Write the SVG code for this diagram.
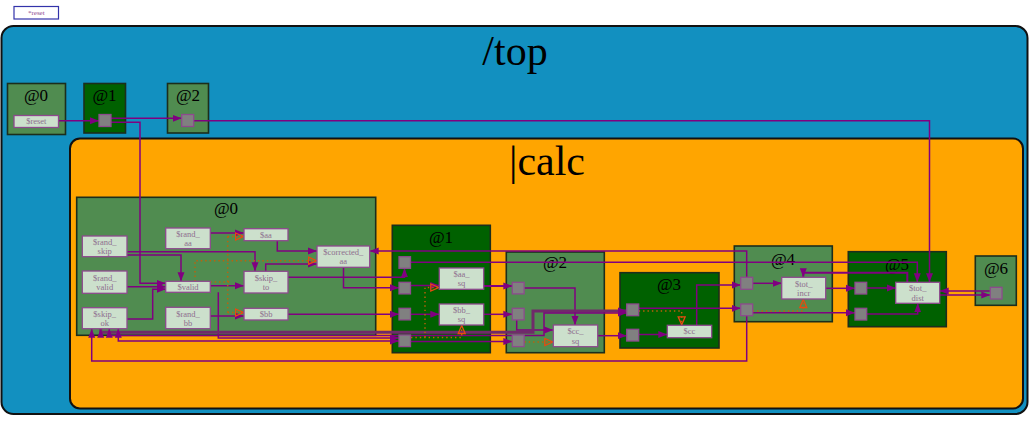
<svg xmlns="http://www.w3.org/2000/svg" width="1029" height="422" viewBox="0 0 1029 422">
<style>
.st{stroke:#1c2e1c;stroke-width:1.6}
.md{fill:#508c50}
.dk{fill:#006100}
.lbl{font-family:"Liberation Serif",serif;font-size:17px;fill:#000;text-anchor:middle}
.nd{fill:#cce0cc;stroke:#8e4a8e;stroke-width:1.3}
.nt{font-family:"Liberation Serif",serif;font-size:8.5px;fill:#8e6e8e;text-anchor:middle}
.sq{fill:#808080;stroke:#8e4a8e;stroke-width:1.3}
.c{fill:none;stroke:#800080;stroke-width:1.5;marker-end:url(#a)}
.cb{fill:none;stroke:#800080;stroke-width:1.5;marker-start:url(#a);marker-end:url(#a)}
.n{fill:none;stroke:#800080;stroke-width:1.5}
.tk{stroke:#702a6a;stroke-width:3}
.d{fill:none;stroke:#c0600a;stroke-width:1.4;stroke-dasharray:1.4,3}
.dh{fill:none;stroke:#c0600a;stroke-width:1.4;stroke-dasharray:1.4,3;marker-end:url(#h)}
</style>
<defs>
<marker id="a" markerUnits="userSpaceOnUse" markerWidth="10" markerHeight="8" refX="9" refY="4" orient="auto-start-reverse"><path d="M0,0.5 L9,4 L0,7.5 z" fill="#800080"/></marker>
<marker id="h" markerUnits="userSpaceOnUse" markerWidth="11" markerHeight="10" refX="9.5" refY="4.5" orient="auto"><path d="M1,1 L9,4.5 L1,8 z" fill="none" stroke="#e84a10" stroke-width="1.3" stroke-dasharray="none"/></marker>
</defs>
<rect width="1029" height="422" fill="#fff"/>
<g id="reset-key">
<rect x="14" y="6.5" width="44.5" height="12.5" fill="#fff" stroke="#3333aa" stroke-width="1.2"/>
<text x="36.3" y="15.3" font-family="Liberation Serif,serif" font-size="7" fill="#8e4a8e" text-anchor="middle">*reset</text>
</g>
<g id="top">
<rect x="1.5" y="26" width="1026" height="388" rx="12" fill="#1290c0" stroke="#111" stroke-width="2"/>
<text x="515" y="65" font-family="Liberation Serif,serif" font-size="42" text-anchor="middle">/top</text>
</g>
<g id="top-s0"><rect x="7.5" y="83.5" width="58" height="51" class="md st"/><text x="36" y="101" class="lbl">@0</text></g>
<g id="top-s1"><rect x="84" y="83.5" width="41.5" height="49.5" class="dk st"/><text x="104.5" y="101" class="lbl">@1</text></g>
<g id="top-s2"><rect x="167.5" y="83.5" width="41" height="49.5" class="md st"/><text x="188" y="101" class="lbl">@2</text></g>
<g id="calc">
<rect x="70" y="138.5" width="953" height="270" rx="10" fill="#ffa500" stroke="#111" stroke-width="2"/>
<text x="547" y="175" font-family="Liberation Serif,serif" font-size="42" text-anchor="middle">|calc</text>
</g>
<g id="calc-s0"><rect x="76.7" y="197.3" width="299" height="138" class="md st"/><text x="226" y="214" class="lbl">@0</text></g>
<g id="calc-s1"><rect x="392.3" y="225.3" width="98" height="127.4" class="dk st"/><text x="441" y="243" class="lbl">@1</text></g>
<g id="calc-s2"><rect x="506.3" y="252" width="98" height="100.7" class="md st"/><text x="555" y="268" class="lbl">@2</text></g>
<g id="calc-s3"><rect x="620" y="272.7" width="99" height="75.3" class="dk st"/><text x="669" y="290" class="lbl">@3</text></g>
<g id="calc-s4"><rect x="734.3" y="246" width="98" height="75.7" class="md st"/><text x="783" y="265" class="lbl">@4</text></g>
<g id="calc-s5"><rect x="848.3" y="251.7" width="98" height="75" class="dk st"/><text x="897" y="270" class="lbl">@5</text></g>
<g id="calc-s6"><rect x="975.3" y="256" width="41" height="49.3" class="md st"/><text x="996" y="274" class="lbl">@6</text></g>

<g id="connectors">
<path class="c" d="M58.7,120.7 H99"/>
<path class="c" d="M111,118.3 H181.7"/>
<path class="c" d="M193.7,120.7 H929.5 V282.3"/>
<path class="c" d="M111,122.3 H140 V283.3 H165.7"/>
<path class="c" d="M210.3,233 H244"/>
<path class="c" d="M127,251.7 H255 V271.3"/>
<path class="c" d="M127,255 H181 V281.3"/>
<path class="c" d="M127,286.7 H165.7"/>
<path class="c" d="M127,319 H152.7 V289.3 H165.7"/>
<path class="c" d="M210.3,285.7 H244"/>
<path class="c" d="M210.3,316 H244"/>
<path class="c" d="M277.3,240.7 V251 H317"/>
<path class="c" d="M265.7,271.3 V264 H317"/>
<path class="c" d="M288,277.3 H404.5 V268.3"/>
<path class="c" d="M343.5,267.3 V287.7 H399"/>
<path class="c" d="M288,314.3 H399"/>
<path class="c" d="M218.3,292.3 V338 H399"/>
<path class="c" d="M746.7,277.3 V251 H369.7"/>
<path class="c" d="M410.3,262.3 H917.3 V282.3"/>
<path class="c" d="M410.3,285.5 H439.3"/>
<path class="c" d="M410.3,314.3 H439.3"/>
<path class="c" d="M410.3,341.5 H512.3"/>
<path class="c" style="stroke-width:2" d="M483.7,286 H512.3"/>
<path class="c" d="M483.7,314.3 H512.3"/>
<path class="c" d="M524.3,288 H575 V325"/>
<path class="c" d="M516.7,320 V330 H553.3"/>
<path class="c" d="M597.7,335.7 H626.7"/>
<path class="cb tk" d="M100.7,328.7 V332.3 H533 V311 H626.7"/>
<path class="cb" d="M109.3,328.7 V335.5 H544 V313 H626.7"/>
<path class="cb" d="M118.3,328.7 V341 H399"/>
<path class="c" d="M746.7,315.7 V361 H91.7 V328.7"/>
<path class="c" d="M638.7,308.3 H740.7"/>
<path class="c" d="M638.7,334.5 H667.3"/>
<path class="c" d="M696.7,325.3 V285 H740.7"/>
<path class="c" d="M752.7,283.3 H781.7"/>
<path class="c" style="stroke-width:2" d="M907.3,282.3 V272.7 H803.3 V277.3"/>
<path class="c" d="M825.7,288.3 H855"/>
<path class="c" d="M752.7,312.7 H855"/>
<path class="c" d="M866.7,288 H895.7"/>
<path class="c" d="M866.7,314 H917.7 V303.3"/>
<path class="c" d="M939.7,295 H990.3"/>
<path class="c" d="M990.3,291 H939.7"/>
<path class="dh" d="M195,281.3 V260.7 H317"/>
<path class="d" d="M210.3,282 H232"/>
<path class="d" d="M227.7,236.5 V312.5"/>
<path class="dh" d="M227.7,236.5 H244"/>
<path class="dh" d="M227.7,312.5 H244"/>
<path class="dh" d="M425,337.5 V287.5 H439.3"/>
<path class="dh" d="M411,337.5 H461.7 V325"/>
<path class="dh" d="M524.3,342 H553.3"/>
<path class="dh" d="M638.7,311 H681.7 V325.3"/>
<path class="dh" d="M752.7,311 H803.3 V299"/>
</g>

<g id="n-reset"><rect x="14" y="115.5" width="44.5" height="12" class="nd"/><text x="36.3" y="124.3" class="nt">$reset</text></g>
<g id="top-s1-p"><rect x="99" y="114.5" width="12" height="12" class="sq"/></g>
<g id="top-s2-p"><rect x="181.7" y="114.5" width="12" height="12" class="sq"/></g>
<g id="n-rand_skip"><rect x="82.3" y="236" width="44.7" height="20.7" class="nd"/><text x="104.7" y="245" class="nt">$rand_</text><text x="104.7" y="254" class="nt">skip</text></g>
<g id="n-rand_valid"><rect x="82.3" y="271" width="44.7" height="22.3" class="nd"/><text x="104.7" y="280.5" class="nt">$rand_</text><text x="104.7" y="290" class="nt">valid</text></g>
<g id="n-skip_ok"><rect x="82.3" y="307.7" width="44.7" height="21" class="nd"/><text x="104.7" y="316.8" class="nt">$skip_</text><text x="104.7" y="326" class="nt">ok</text></g>
<g id="n-rand_aa"><rect x="165.7" y="228" width="44.6" height="20.7" class="nd"/><text x="188" y="237" class="nt">$rand_</text><text x="188" y="246" class="nt">aa</text></g>
<g id="n-valid"><rect x="165.7" y="281.3" width="44.6" height="11" class="nd"/><text x="188" y="289.7" class="nt">$valid</text></g>
<g id="n-rand_bb"><rect x="165.7" y="307.3" width="44.6" height="21.4" class="nd"/><text x="188" y="316.5" class="nt">$rand_</text><text x="188" y="325.7" class="nt">bb</text></g>
<g id="n-aa"><rect x="244" y="228.7" width="44" height="12" class="nd"/><text x="266" y="237.5" class="nt">$aa</text></g>
<g id="n-skip_to"><rect x="244" y="271.3" width="44" height="21.7" class="nd"/><text x="266" y="280.5" class="nt">$skip_</text><text x="266" y="290" class="nt">to</text></g>
<g id="n-bb"><rect x="244" y="308.3" width="44" height="11.7" class="nd"/><text x="266" y="317" class="nt">$bb</text></g>
<g id="n-corrected_aa"><rect x="317" y="246" width="52.7" height="21.3" class="nd"/><text x="343.3" y="255" class="nt">$corrected_</text><text x="343.3" y="264.3" class="nt">aa</text></g>
<g id="s1-p1"><rect x="399" y="256.7" width="11.5" height="11.6" class="sq"/></g>
<g id="s1-p2"><rect x="399" y="282.3" width="11.5" height="11.6" class="sq"/></g>
<g id="s1-p3"><rect x="399" y="308.3" width="11.5" height="11.6" class="sq"/></g>
<g id="s1-p4"><rect x="399" y="335" width="11.5" height="11.6" class="sq"/></g>
<g id="n-aa_sq"><rect x="439.3" y="268" width="44.4" height="21.3" class="nd"/><text x="461.5" y="277" class="nt">$aa_</text><text x="461.5" y="286.4" class="nt">sq</text></g>
<g id="n-bb_sq"><rect x="439.3" y="304" width="44.4" height="21" class="nd"/><text x="461.5" y="313" class="nt">$bb_</text><text x="461.5" y="322.3" class="nt">sq</text></g>
<g id="s2-p1"><rect x="512.3" y="282.3" width="11.8" height="11.6" class="sq"/></g>
<g id="s2-p2"><rect x="512.3" y="308.3" width="11.8" height="11.6" class="sq"/></g>
<g id="s2-p3"><rect x="512.3" y="335" width="11.8" height="11.6" class="sq"/></g>
<g id="n-cc_sq"><rect x="553.3" y="325" width="44.4" height="21.7" class="nd"/><text x="575.5" y="334.3" class="nt">$cc_</text><text x="575.5" y="343.7" class="nt">sq</text></g>
<g id="s3-p1"><rect x="626.7" y="304" width="12" height="11.7" class="sq"/></g>
<g id="s3-p2"><rect x="626.7" y="329.3" width="12" height="11.7" class="sq"/></g>
<g id="n-cc"><rect x="667.3" y="325.3" width="44.4" height="12.4" class="nd"/><text x="689.5" y="334.2" class="nt">$cc</text></g>
<g id="s4-p1"><rect x="740.7" y="277.3" width="12" height="12" class="sq"/></g>
<g id="s4-p2"><rect x="740.7" y="304" width="12" height="11.7" class="sq"/></g>
<g id="n-tot_incr"><rect x="781.7" y="277.3" width="44" height="21.7" class="nd"/><text x="803.7" y="286.5" class="nt">$tot_</text><text x="803.7" y="296" class="nt">incr</text></g>
<g id="s5-p1"><rect x="855" y="282.3" width="11.7" height="11.7" class="sq"/></g>
<g id="s5-p2"><rect x="855" y="308.3" width="11.7" height="11.7" class="sq"/></g>
<g id="n-tot_dist"><rect x="895.7" y="282.3" width="44" height="21" class="nd"/><text x="917.7" y="291.3" class="nt">$tot_</text><text x="917.7" y="300.7" class="nt">dist</text></g>
<g id="s6-p1"><rect x="990.3" y="287.3" width="11.7" height="11.7" class="sq"/></g>
</svg>
